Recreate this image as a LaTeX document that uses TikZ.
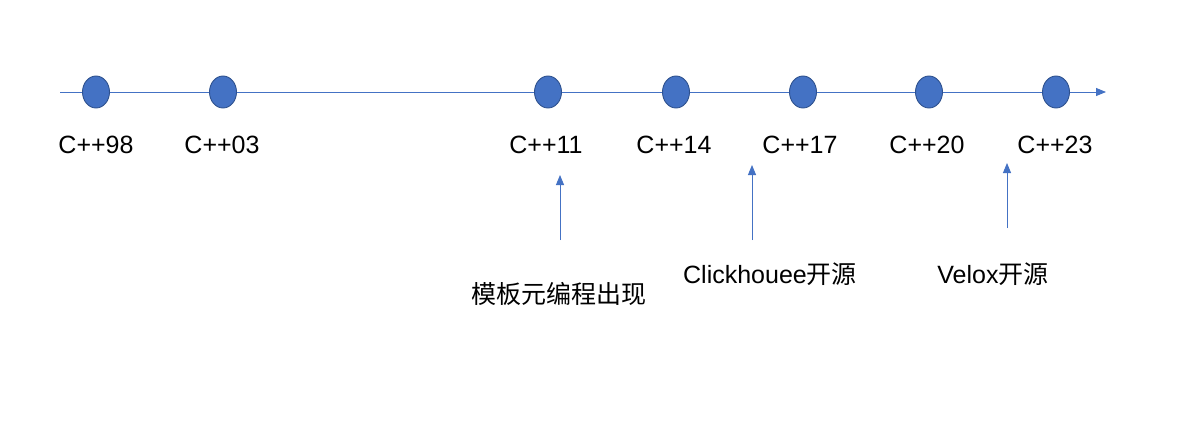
\documentclass[tikz,border=0pt]{standalone}
\usepackage{fontspec}
\setmainfont{Liberation Sans}
\newfontfamily\cjk{Noto Sans CJK SC}
\usetikzlibrary{arrows.meta,shapes.geometric}
\definecolor{oblue}{HTML}{4472C4}
\definecolor{oedge}{HTML}{2F528F}
\tikzset{
  dot/.style={ellipse, fill=oblue, draw=oedge, line width=0.9pt, minimum width=27pt, minimum height=32pt, inner sep=0pt},
  yr/.style={font=\fontsize{25}{28}\selectfont, inner sep=0pt, anchor=center},
  note/.style={font=\fontsize{25}{28}\selectfont, inner sep=0pt, anchor=center},
  conn/.style={draw=oblue, line width=0.9pt, -{Triangle[length=10pt,width=8pt]}}
}
\begin{document}
\begin{tikzpicture}[x=1pt,y=-1pt]
\useasboundingbox (0,0) rectangle (1184,426);
\fill[white] (0,0) rectangle (1184,426);
\coordinate (s) at (60,92);
\coordinate (e) at (1106,92);
\draw[conn] (s) -- (e);
\node[dot] (d98) at (96,92) {};
\node[dot] (d03) at (223,92) {};
\node[dot] (d11) at (548,92) {};
\node[dot] (d14) at (676,92) {};
\node[dot] (d17) at (803,92) {};
\node[dot] (d20) at (929,92) {};
\node[dot] (d23) at (1056,92) {};
\node[yr] (l98) at (96,145) {C++98};
\node[yr] (l03) at (222,145) {C++03};
\node[yr] (l11) at (546,145) {C++11};
\node[yr] (l14) at (674,145) {C++14};
\node[yr] (l17) at (800,145) {C++17};
\node[yr] (l20) at (927,145) {C++20};
\node[yr] (l23) at (1055,145) {C++23};
\coordinate (a1) at (560,240);
\coordinate (t1) at (560,175);
\coordinate (a2) at (752,240);
\coordinate (t2) at (752,165);
\coordinate (a3) at (1007,228);
\coordinate (t3) at (1007,163);
\draw[conn] (a1) -- (t1);
\draw[conn] (a2) -- (t2);
\draw[conn] (a3) -- (t3);
\node[note] (n1) at (559,294) {\cjk 模板元编程出现};
\node[note] (n2) at (770,274) {Clickhouee{\cjk 开源}};
\node[note] (n3) at (993,274) {Velox{\cjk 开源}};
\end{tikzpicture}
\end{document}
